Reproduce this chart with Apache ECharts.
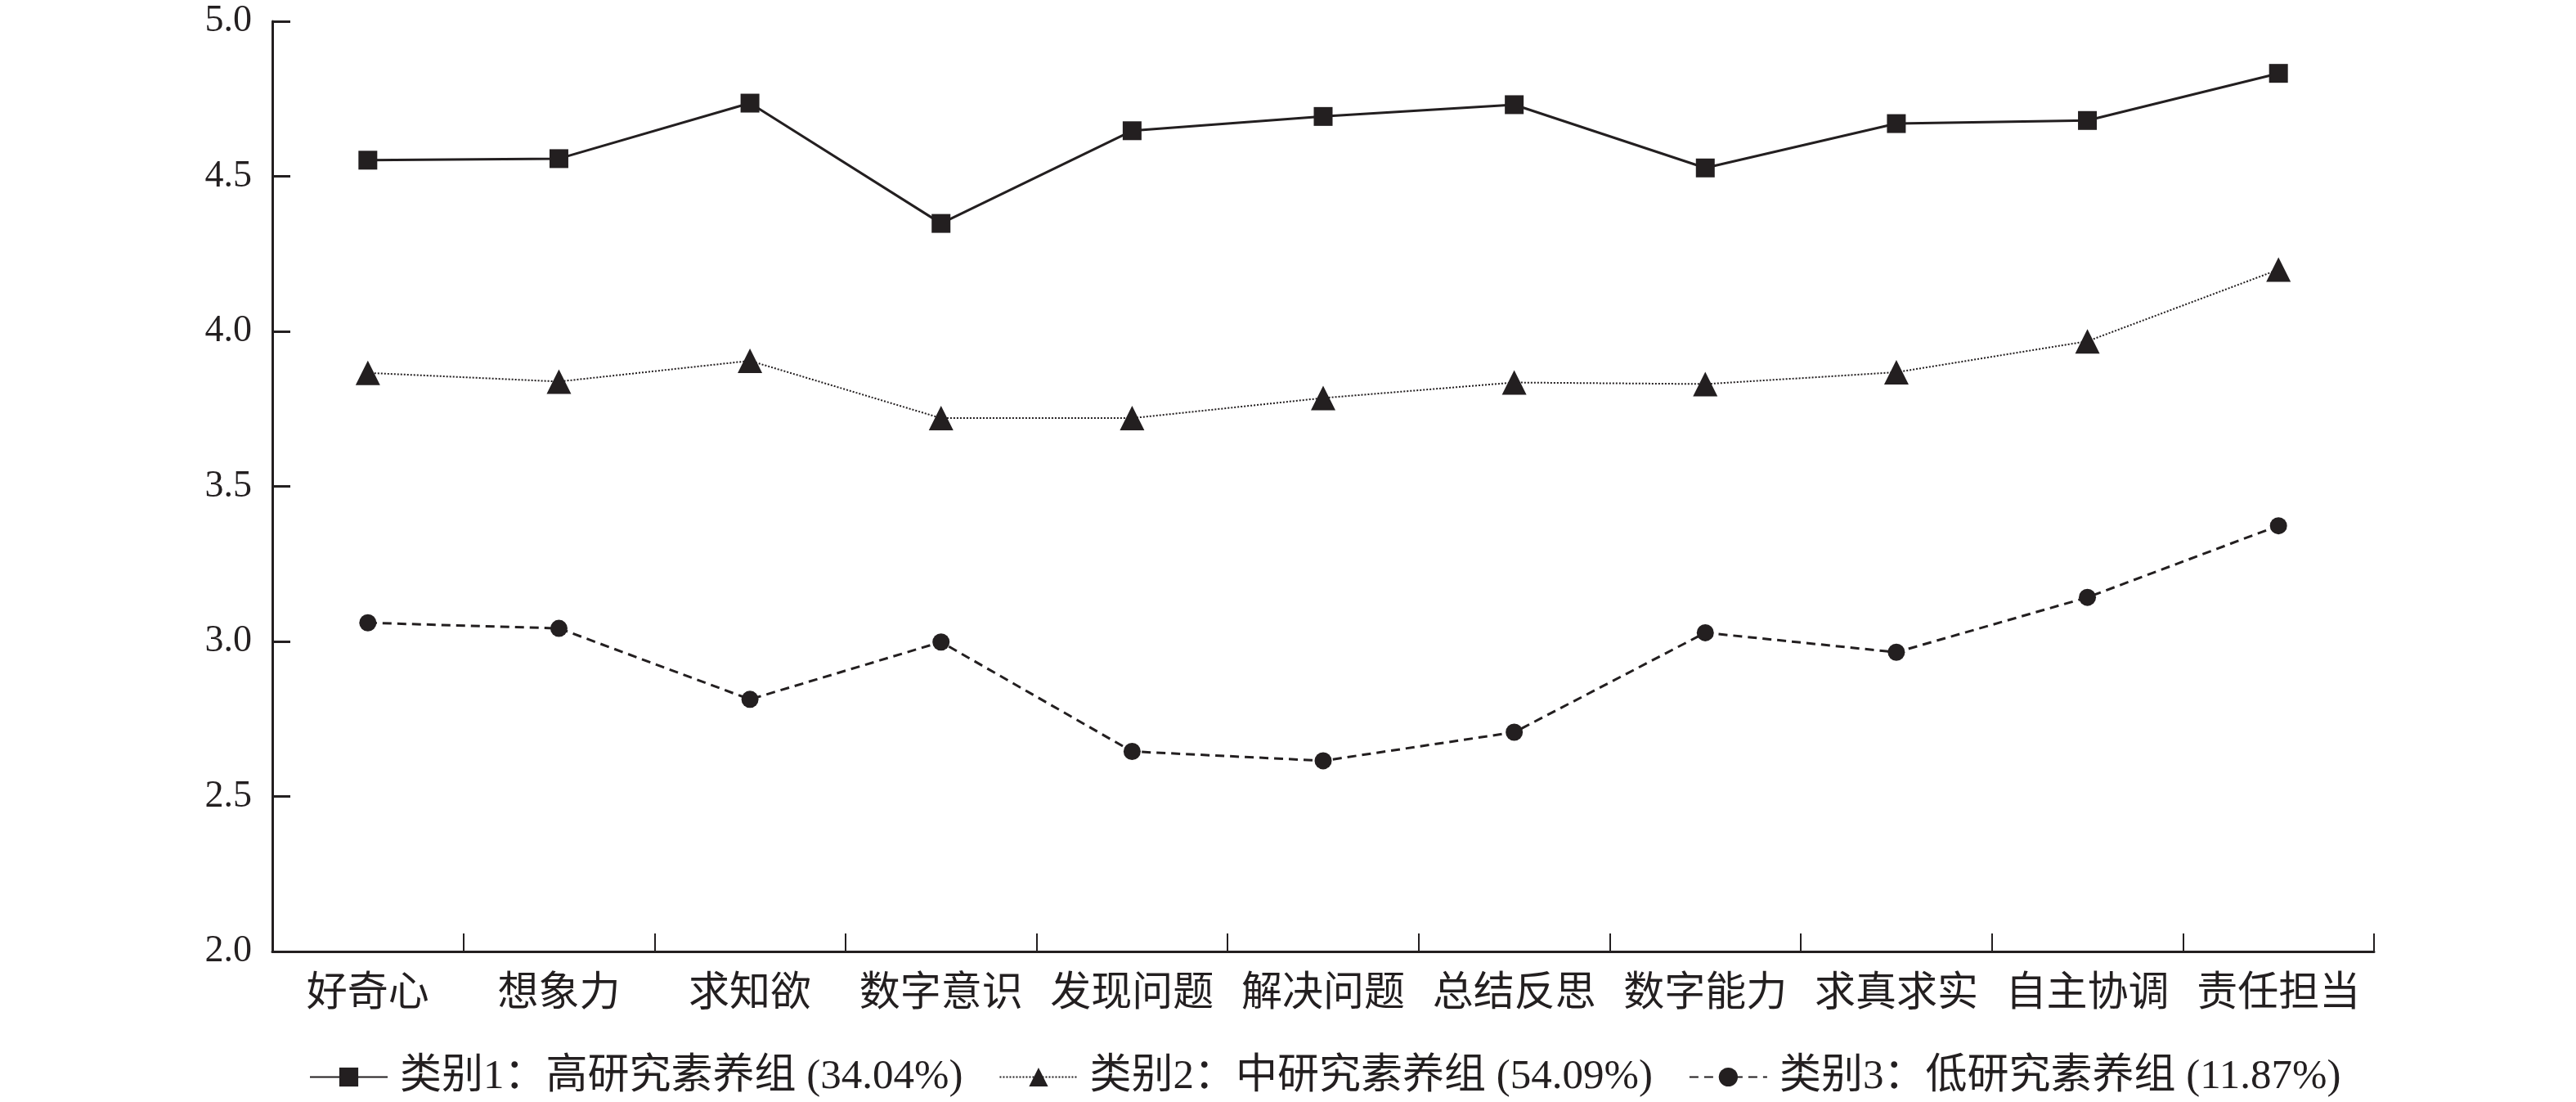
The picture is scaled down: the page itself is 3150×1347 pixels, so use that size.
<!DOCTYPE html>
<html>
<head>
<meta charset="utf-8">
<script src="https://cdn.jsdelivr.net/npm/echarts@6/dist/echarts.min.js"></script>
<style>
html,body{margin:0;padding:0;background:#fff;}
#chart{width:3150px;height:1347px;}
</style>
</head>
<body>
<div id="chart"></div>
<script>
const categories = ['好奇心','想象力','求知欲','数字意识','发现问题','解决问题','总结反思','数字能力','求真求实','自主协调','责任担当'];
const seriesNames = ['类别1：高研究素养组 (34.04%)','类别2：中研究素养组 (54.09%)','类别3：低研究素养组 (11.87%)'];
const highGroup = [4.552, 4.557, 4.736, 4.348, 4.647, 4.693, 4.731, 4.527, 4.670, 4.680, 4.832];
const midGroup  = [3.866, 3.838, 3.905, 3.720, 3.720, 3.785, 3.835, 3.830, 3.868, 3.968, 4.199];
const lowGroup  = [3.060, 3.042, 2.813, 2.998, 2.645, 2.615, 2.707, 3.028, 2.965, 3.142, 3.373];
const yTicks = [2.0, 2.5, 3.0, 3.5, 4.0, 4.5, 5.0];

const INK = '#231f20';
const FONT = '"Liberation Serif", "Times New Roman", "Noto Sans CJK SC", serif';

const chart = echarts.init(document.getElementById('chart'), null, {renderer: 'canvas'});
chart.setOption({
  backgroundColor: '#ffffff',
  animation: false,
  grid: {left: 333, right: 247, top: 26, bottom: 184, containLabel: false},
  legend: {
    left: 373,
    top: 1286,
    itemWidth: 95,
    itemHeight: 29,
    itemGap: 44,
    textStyle: {fontFamily: FONT, fontSize: 51, color: INK, padding: [0, 0, 0, 10]},
    data: seriesNames
  },
  xAxis: {
    type: 'category',
    data: categories,
    boundaryGap: true,
    axisLine: {lineStyle: {color: INK, width: 3}},
    axisTick: {show: true, inside: true, length: 22, lineStyle: {color: INK, width: 2}},
    axisLabel: {fontFamily: FONT, fontSize: 50, color: INK, margin: 28, interval: 0},
    splitLine: {show: false}
  },
  yAxis: {
    type: 'value',
    min: yTicks[0],
    max: yTicks[yTicks.length - 1],
    interval: 0.5,
    axisLine: {show: true, lineStyle: {color: INK, width: 3}},
    axisTick: {show: true, inside: true, length: 22, lineStyle: {color: INK, width: 3}},
    axisLabel: {fontFamily: FONT, fontSize: 46, color: INK, margin: 25, formatter: v => v.toFixed(1)},
    splitLine: {show: false}
  },
  series: [
    {
      name: seriesNames[0], type: 'line', data: highGroup,
      symbol: 'rect', symbolSize: 23,
      lineStyle: {color: INK, width: 3, type: 'solid'},
      itemStyle: {color: INK}
    },
    {
      name: seriesNames[1], type: 'line', data: midGroup,
      symbol: 'triangle', symbolSize: 30,
      lineStyle: {color: INK, width: 2, type: [2, 2]},
      itemStyle: {color: INK}
    },
    {
      name: seriesNames[2], type: 'line', data: lowGroup,
      symbol: 'circle', symbolSize: 21,
      lineStyle: {color: INK, width: 3, type: [11, 7]},
      itemStyle: {color: INK}
    }
  ]
});
</script>
</body>
</html>
